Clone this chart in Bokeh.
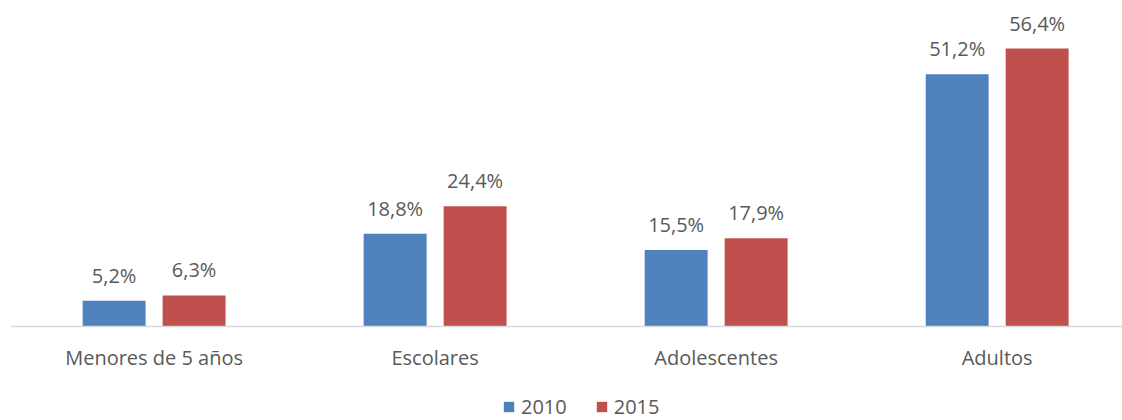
from bokeh.plotting import figure
from bokeh.models import (ColumnDataSource, Legend, LegendItem, FixedTicker, LabelSet,
                          Range1d, LinearAxis)
from bokeh.core.properties import value
from bokeh.transform import dodge
from bokeh.embed import file_html
from bokeh.resources import INLINE

categories = ["Menores de 5 años", "Escolares", "Adolescentes", "Adultos"]
series_names = ["2010", "2015"]
values_2010 = [5.2, 18.8, 15.5, 51.2]
values_2015 = [6.3, 24.4, 17.9, 56.4]

BLUE = "#4F81BD"
RED = "#C0504D"
TXT = "#595959"

def fmt(v):
    return f"{v:.1f}".replace(".", ",") + "%"

xs = list(range(len(categories)))
src = ColumnDataSource(dict(
    x=xs,
    v10=values_2010,
    v15=values_2015,
    t10=[fmt(v) for v in values_2010],
    t15=[fmt(v) for v in values_2015],
))

p = figure(width=1122, height=420, output_backend="svg", toolbar_location=None,
           x_range=Range1d(-0.511, 3.446), y_range=Range1d(-19.07, 66.14),
           x_axis_location=None, y_axis_location=None,
           min_border_left=10, min_border_right=0,
           min_border_top=0, min_border_bottom=0)
p.outline_line_color = None
p.xgrid.visible = False
p.ygrid.visible = False
p.background_fill_color = "white"
p.border_fill_color = "white"

off = 0.1423
w = 0.224
r1 = p.vbar(x=dodge("x", -off), top="v10", width=w, source=src, fill_color=BLUE, line_color=None)
r2 = p.vbar(x=dodge("x", off), top="v15", width=w, source=src, fill_color=RED, line_color=None)

for col, top, o in (("t10", "v10", -off), ("t15", "v15", off)):
    lbl = LabelSet(x=dodge("x", o), y=top, text=col, source=src, text_align="center",
                   text_baseline="bottom", y_offset=12, text_font=value("Open Sans"),
                   text_font_size=value("20px"), text_color=value(TXT))
    p.add_layout(lbl)

ax = LinearAxis(fixed_location=0)
ax.ticker = FixedTicker(ticks=xs)
ax.major_label_overrides = {i: c for i, c in enumerate(categories)}
ax.major_tick_line_color = None
ax.minor_tick_line_color = None
ax.axis_line_color = "#D9D9D9"
ax.axis_line_width = 1.5
ax.major_label_text_font = "Open Sans"
ax.major_label_text_font_size = "20px"
ax.major_label_text_color = TXT
ax.major_label_standoff = 11
p.add_layout(ax, "below")

legend = Legend(items=[LegendItem(label=series_names[0], renderers=[r1]),
                       LegendItem(label=series_names[1], renderers=[r2])],
                orientation="horizontal", location=(492, 0),
                glyph_width=13, glyph_height=13, label_standoff=6, spacing=28,
                padding=0, margin=0, border_line_color=None, background_fill_alpha=0,
                label_text_font="Open Sans", label_text_font_size="20px",
                label_text_color=TXT, label_height=20)
p.add_layout(legend)

open("out.html", "w").write(file_html(p, INLINE))
